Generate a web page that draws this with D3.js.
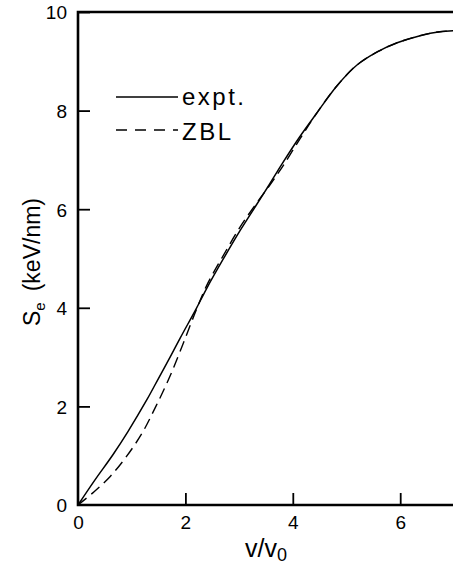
<!DOCTYPE html>
<html><head><meta charset="utf-8">
<script src="https://cdn.jsdelivr.net/npm/d3@7"></script>
<style>
html,body{margin:0;padding:0;background:#fff;}
svg{display:block;font-family:"Liberation Sans",Arial,sans-serif;}
</style></head>
<body>
<svg id="c" width="453" height="565"></svg>
<script>
const xTicks = [0, 2, 4, 6];
const yTicks = [0, 2, 4, 6, 8, 10];
const exptV = [0, 0.31, 0.65, 0.93, 1.28, 1.5, 1.74, 1.9, 2.2, 2.4, 2.7, 3.02, 3.33, 3.54, 3.8, 4.13, 4.44, 4.82, 5.19, 5.59, 5.93, 6.37, 6.74, 7.0];
const exptS = [0, 0.5, 1.02, 1.49, 2.13, 2.57, 3.05, 3.38, 3.98, 4.4, 4.98, 5.57, 6.1, 6.46, 6.92, 7.47, 7.94, 8.5, 8.92, 9.2, 9.37, 9.52, 9.6, 9.62];
const zblV = [0, 0.3, 0.6, 0.9, 1.2, 1.45, 1.7, 1.95, 2.2, 2.4, 2.7, 3.02, 3.33, 3.54, 3.8, 4.13, 4.44, 4.82, 5.19, 5.59, 5.93, 6.37, 6.74, 7.0];
const zblS = [0, 0.27, 0.58, 0.98, 1.47, 2.0, 2.58, 3.25, 3.95, 4.46, 5.05, 5.64, 6.13, 6.44, 6.85, 7.42, 7.94, 8.5, 8.92, 9.2, 9.37, 9.52, 9.6, 9.62];
const legendLabels = ["expt.", "ZBL"];

const svg = d3.select("#c");
const L = 78, B = 505;
const x = d3.scaleLinear().domain([0, 7]).range([L, L + 7 * 53.7]);
const y = d3.scaleLinear().domain([0, 10]).range([B, B - 10 * 49.3]);

const line = d3.line().x(d => x(d[0])).y(d => y(d[1])).curve(d3.curveCatmullRom.alpha(0.5));
const expt = exptV.map((v, i) => [v, exptS[i]]);
const zbl = zblV.map((v, i) => [v, zblS[i]]);

svg.append("path").attr("d", line(zbl)).attr("fill", "none")
  .attr("stroke", "#000").attr("stroke-width", 1.4).attr("stroke-dasharray", "11,6");
svg.append("path").attr("d", line(expt)).attr("fill", "none")
  .attr("stroke", "#000").attr("stroke-width", 1.5);

// axes
const xAxis = d3.axisBottom(x).tickValues(xTicks).tickSize(-12).tickFormat(d3.format("d"));
const yAxis = d3.axisLeft(y).tickValues(yTicks).tickSize(-12).tickFormat(d3.format("d"));
const gx = svg.append("g").attr("transform", `translate(0,${B})`).call(xAxis);
const gy = svg.append("g").attr("transform", `translate(${L},0)`).call(yAxis);
[gx, gy].forEach(g => {
  g.select(".domain").remove();
  g.selectAll(".tick line").attr("stroke", "#000").attr("stroke-width", 1.8);
  g.selectAll(".tick text").attr("font-size", 19).attr("fill", "#000")
    .attr("font-family", "'Liberation Sans', Arial, sans-serif");
});
gx.selectAll(".tick text").attr("dy", "0").attr("y", 24);
gy.selectAll(".tick text").attr("x", -11).attr("dy", "0.36em");
gy.selectAll(".tick").filter(d => d === 0).select("line").remove();
gx.selectAll(".tick").filter(d => d === 0).select("line").remove();

// frame: left, bottom, top
svg.append("path")
  .attr("d", `M${x(7) + 5},${y(10)} H${L} V${B} H${x(7) + 5}`)
  .attr("fill", "none").attr("stroke", "#000").attr("stroke-width", 2.6);

// legend
const lg = svg.append("g");
lg.append("line").attr("x1", 116).attr("x2", 178).attr("y1", 97).attr("y2", 97)
  .attr("stroke", "#000").attr("stroke-width", 1.3);
lg.append("line").attr("x1", 116).attr("x2", 178).attr("y1", 130).attr("y2", 130)
  .attr("stroke", "#000").attr("stroke-width", 1.3).attr("stroke-dasharray", "11,8");
lg.append("text").attr("x", 182).attr("y", 105).attr("font-size", 24)
  .attr("letter-spacing", 2.5).text(legendLabels[0]);
lg.append("text").attr("x", 182).attr("y", 140).attr("font-size", 24)
  .attr("letter-spacing", 2.5).text(legendLabels[1]);

// x label
const xl = svg.append("text").attr("x", 266).attr("y", 557).attr("text-anchor", "middle")
  .attr("font-size", 25);
xl.append("tspan").text("v/v");
xl.append("tspan").attr("font-size", 18).attr("dy", 4).text("0");

// y label
const yl = svg.append("text").attr("transform", "translate(40,262) rotate(-90)")
  .attr("text-anchor", "middle").attr("font-size", 23);
yl.append("tspan").text("S");
yl.append("tspan").attr("font-size", 15).attr("dy", 5).text("e");
yl.append("tspan").attr("dy", -5).text("\u2009 (keV/nm)");
</script>
</body></html>
